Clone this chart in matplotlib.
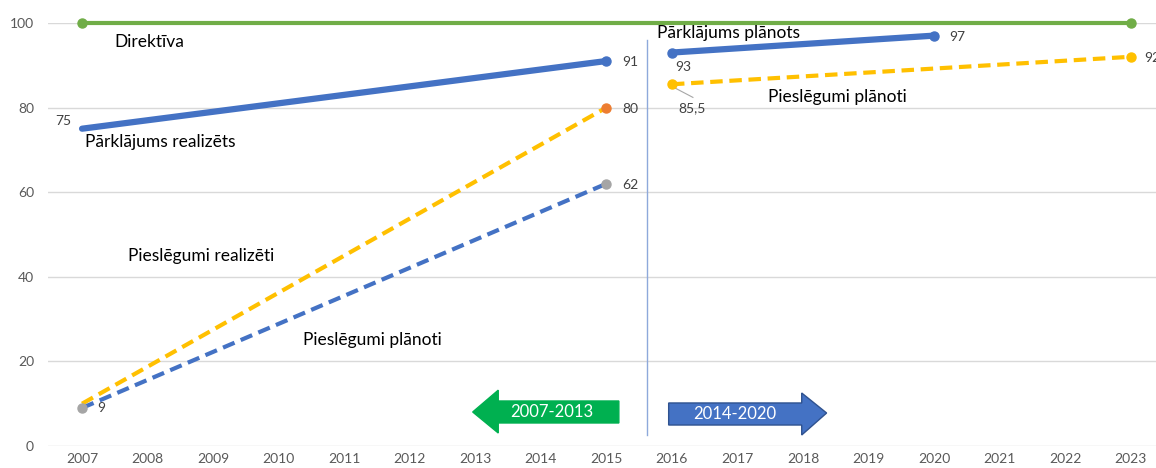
import numpy as np
import matplotlib.pyplot as plt
from matplotlib.patches import Polygon

# Data
years = [str(y) for y in range(2007, 2024)]
direktiva = {'2007': 100, '2023': 100}
parklajums_real = {'2007': 75, '2015': 91}
piesl_real = {'2007': 10, '2015': 80}
piesl_plan_old = {'2007': 9, '2015': 62}
parklajums_plan = {'2016': 93, '2020': 97}
piesl_plan_new = {'2016': 85.5, '2023': 92}

green = '#70AD47'
blue = '#4472C4'
yellow = '#FFC000'
orange = '#ED7D31'
grey = '#A5A5A5'

plt.rcParams['font.family'] = ['Lato', 'DejaVu Sans']

fig = plt.figure(figsize=(11.56, 4.68), dpi=100)
ax = fig.add_axes([0.0415, 0.047, 0.965, 0.904])

def xy(d):
    xs = [years.index(k) for k in d]
    return xs, list(d.values())

# Direktiva (sits on the top edge, so no clipping)
x, y = xy(direktiva)
ax.plot(x, y, color=green, lw=3, solid_capstyle='round', zorder=3, clip_on=False)
ax.plot(x, y, 'o', color=green, ms=6.5, zorder=4, clip_on=False)

# Parklajums realizets
x, y = xy(parklajums_real)
ax.plot(x, y, color=blue, lw=4.5, solid_capstyle='round', zorder=3)
ax.plot(x[1], y[1], 'o', color=blue, ms=6.5, zorder=4)

# Pieslegumi realizeti (yellow dashed)
x, y = xy(piesl_real)
ax.plot(x, y, color=yellow, lw=3, ls=(0, (3, 1.6)), zorder=3)
ax.plot(x[1], y[1], 'o', color=orange, ms=6.5, zorder=4)

# Pieslegumi planoti (blue dashed, 2007-2015)
x, y = xy(piesl_plan_old)
ax.plot(x, y, color=blue, lw=3, ls=(0, (3, 1.6)), zorder=3)
ax.plot(x, y, 'o', color=grey, ms=6.5, zorder=4)

# Parklajums planots
x, y = xy(parklajums_plan)
ax.plot(x, y, color=blue, lw=4.5, solid_capstyle='round', zorder=3)
ax.plot(x, y, 'o', color=blue, ms=6.5, zorder=4)

# Pieslegumi planoti (yellow dashed, 2016-2023)
x, y = xy(piesl_plan_new)
ax.plot(x, y, color=yellow, lw=3, ls=(0, (3, 1.6)), zorder=3)
ax.plot(x, y, 'o', color=yellow, ms=6.5, zorder=4)

# axes styling
ax.set_xlim(-0.52, 16.5)
ax.set_ylim(0, 100)
ax.set_xticks(range(len(years)))
ax.set_xticklabels(years)
ax.set_yticks(range(0, 101, 20))
ax.yaxis.grid(True, color='#D9D9D9', lw=1)
ax.set_axisbelow(True)
for s in ax.spines.values():
    s.set_visible(False)
ax.tick_params(length=0, labelsize=10, colors='#595959', pad=5)
ax.tick_params(axis='y', pad=10)

# separator line
ax.plot([8.62, 8.62], [2.6, 96], color='#8EA9DB', lw=1, zorder=2)

# labels
lab = dict(fontsize=12.5, color='black', va='center')
num = dict(fontsize=10, color='#404040', va='center', ha='center')
ax.text(0.50, 95.5, 'Direktīva', **lab)
ax.text(0.05, 71.9, 'Pārklājums realizēts', **lab)
ax.text(0.70, 44.9, 'Pieslēgumi realizēti', **lab)
ax.text(3.37, 25.1, 'Pieslēgumi plānoti', **lab)
ax.text(8.77, 97.6, 'Pārklājums plānots', **lab)
ax.text(10.46, 82.5, 'Pieslēgumi plānoti', **lab)

ax.text(-0.29, 76.8, '75', **num)
ax.text(8.36, 90.8, '91', **num)
ax.text(8.36, 79.7, '80', **num)
ax.text(8.36, 61.7, '62', **num)
ax.text(0.29, 9.0, '9', **num)
ax.text(9.17, 89.6, '93', **num)
ax.text(9.30, 79.9, '85,5', **num)
ax.text(13.35, 96.7, '97', **num)
ax.text(16.2, 91.7, '92', fontsize=10, color='#404040', va='center', ha='left')
ax.plot([9.0, 9.32], [85.0, 82.4], color='#A6A6A6', lw=0.8, zorder=2)

# period arrows
green_arrow = Polygon([(5.96, 8.04), (6.35, 13.2), (6.35, 10.64), (8.19, 10.64),
                       (8.19, 5.44), (6.35, 5.44), (6.35, 3.07)],
                      closed=True, facecolor='#00B050', edgecolor='#00B050', zorder=5)
blue_arrow = Polygon([(8.95, 10.17), (10.98, 10.17), (10.98, 12.53), (11.36, 7.8),
                      (10.98, 2.6), (10.98, 4.96), (8.95, 4.96)],
                     closed=True, facecolor=blue, edgecolor='#2F528F', lw=1, zorder=5)
ax.add_patch(green_arrow)
ax.add_patch(blue_arrow)
ax.text(7.16, 8.0, '2007-2013', color='white', fontsize=12, ha='center', va='center', zorder=6)
ax.text(9.96, 7.6, '2014-2020', color='white', fontsize=12, ha='center', va='center', zorder=6)

fig.savefig('out.png', dpi=100)
